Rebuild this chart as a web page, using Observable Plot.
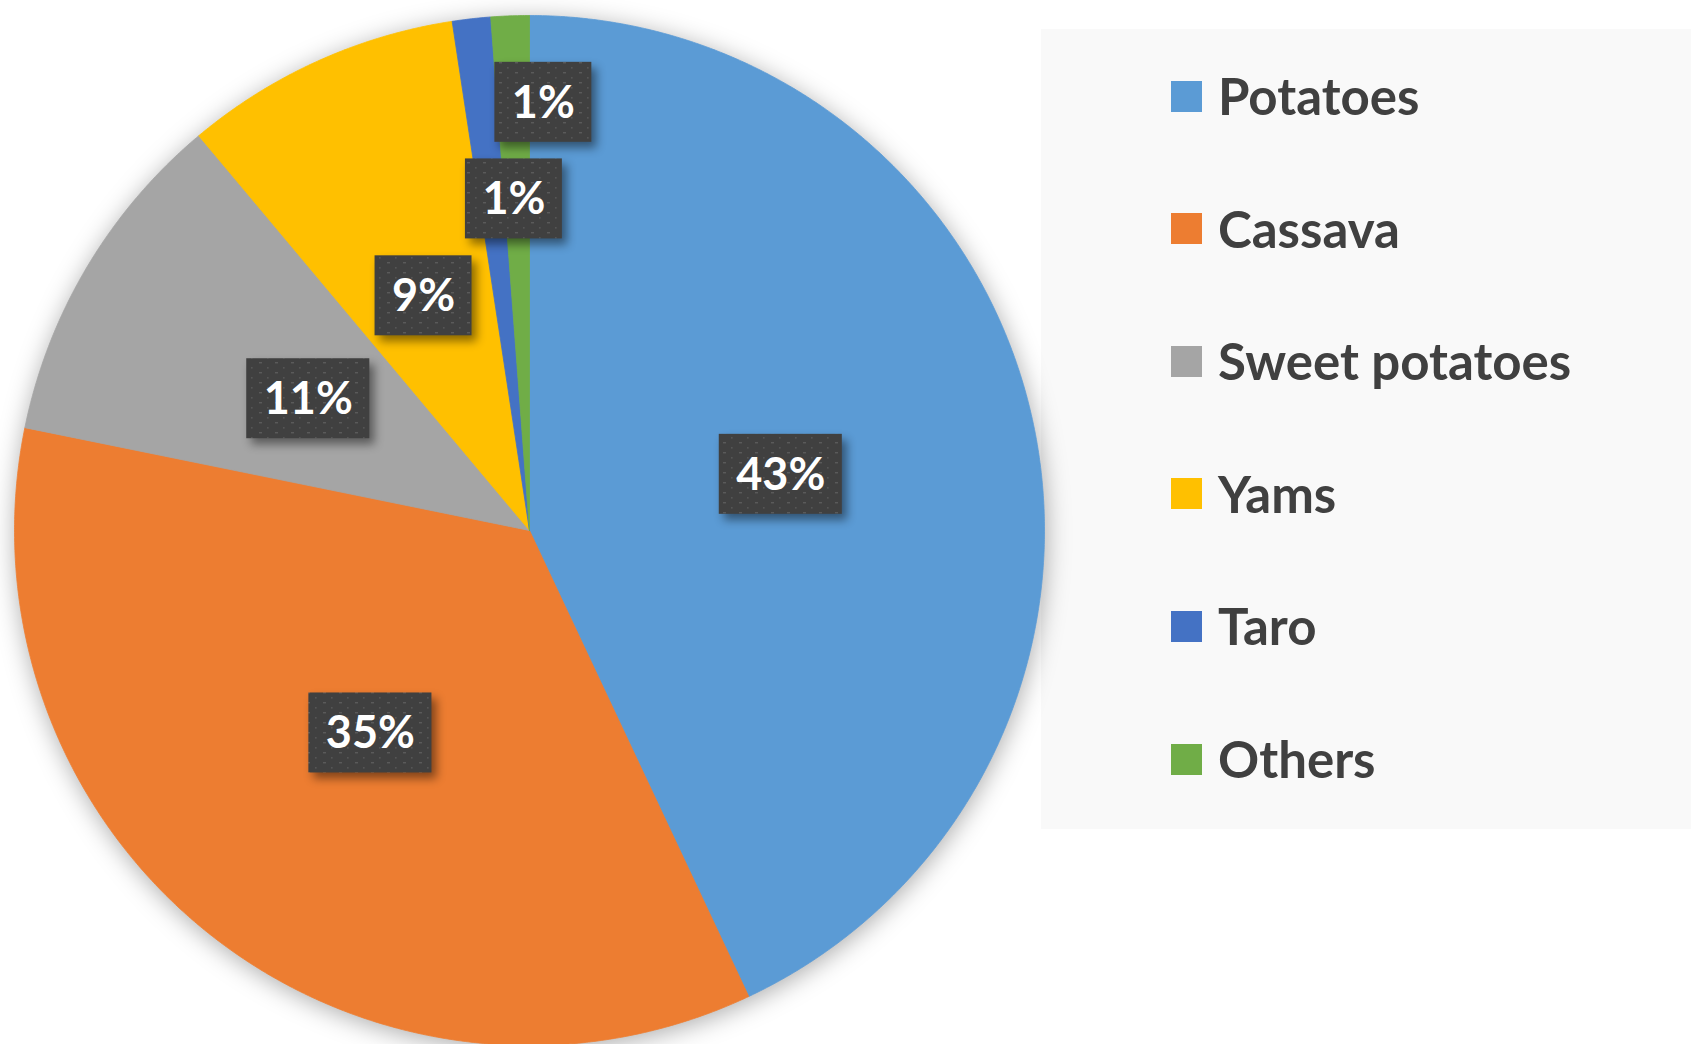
<!DOCTYPE html>
<html>
<head>
<meta charset="utf-8">
<script src="https://cdn.jsdelivr.net/npm/d3@7"></script>
<script src="https://cdn.jsdelivr.net/npm/@observablehq/plot@0.6"></script>
<style>
  html, body { margin: 0; padding: 0; background: #ffffff; }
  #wrap { position: relative; width: 1691px; height: 1044px; overflow: hidden; font-family: Lato, "Open Sans", sans-serif; }
  #legend { position: absolute; left: 1041px; top: 29px; width: 650px; height: 800px; background: #F9F9F9; }
  .item { position: absolute; left: 130px; height: 40px; display: flex; align-items: center; }
  .sw { width: 31px; height: 31px; box-sizing: border-box; margin-right: 16px; }
  .lab { font-size: 51px; font-weight: 700; color: #404040; line-height: 40px; white-space: nowrap; }
  #chart { position: absolute; left: 0; top: 0; }
</style>
</head>
<body>
<div id="wrap">
  <div id="legend"></div>
  <div id="chart"></div>
</div>
<script>
// ---- data ----
const categories = ["Potatoes", "Cassava", "Sweet potatoes", "Yams", "Taro", "Others"];
const shares = [43.0, 35.2, 10.7, 8.7, 1.2, 1.2];
const colors = ["#5B9BD5", "#ED7D31", "#A5A5A5", "#FFC000", "#4472C4", "#70AD47"];

// ---- build table ----
const data = categories.map((name, i) => ({name, value: shares[i]}));
const total = d3.sum(shares);
const arcs = d3.pie().sort(null).value(d => d.value)(data);

// slice polygons in unit-radius data space (y up, clockwise from 12 o'clock)
const pts = [];
arcs.forEach(a => {
  const name = a.data.name;
  pts.push({name, x: 0, y: 0});
  const n = Math.max(2, Math.ceil((a.endAngle - a.startAngle) / 0.005));
  for (let k = 0; k <= n; k++) {
    const t = a.startAngle + (a.endAngle - a.startAngle) * k / n;
    pts.push({name, x: Math.sin(t), y: Math.cos(t)});
  }
  pts.push({name, x: 0, y: 0});
});

// ---- data labels with simple collision avoidance (nudge sideways, then outward) ----
const R = 515; // pixels per unit
const ctx = document.createElement("canvas").getContext("2d");
ctx.font = "bold 45px Lato";
const placed = [];
const labelData = arcs.map(a => {
  const label = Math.round(a.data.value / total * 100) + "%";
  const w = ctx.measureText(label).width + 34;
  const h = 80;
  const hw = w / 2 / R, hh = h / 2 / R, pad = 15 / R, gap = 2 / R, maxShift = 30 / R;
  const mid = (a.startAngle + a.endAngle) / 2;
  let r = 0.5, shift = 0, x, y;
  const hits = () => placed.filter(b =>
    Math.abs(x - b.x) < hw + b.hw + pad && Math.abs(y - b.y) < hh + b.hh + pad);
  x = Math.sin(mid) * r; y = Math.cos(mid) * r;
  const firstHits = placed.filter(b =>
    Math.abs(x - b.x) < hw + b.hw && Math.abs(y - b.y) < hh + b.hh);
  firstHits.forEach(b => {
    const need = (b.x + b.hw + gap) - (x - hw);
    shift = Math.max(shift, Math.min(need, maxShift));
  });
  for (;;) {
    x = Math.sin(mid) * r + shift; y = Math.cos(mid) * r;
    if (!hits().length || r > 0.95) break;
    r += 0.004;
  }
  const d = {label, x, y, hw, hh, x1: x - hw, x2: x + hw, y1: y - hh, y2: y + hh};
  placed.push(d);
  return d;
});

const plot = Plot.plot({
  width: 1691,
  height: 1044,
  margin: 0,
  style: {background: "transparent", fontFamily: "Lato, 'Open Sans', sans-serif"},
  x: {domain: [-1, 1], range: [14, 1044], axis: null},
  y: {domain: [-1, 1], range: [1045, 15], axis: null},
  color: {domain: categories, range: colors},
  marks: [
    Plot.line(pts, {x: "x", y: "y", z: "name", fill: "name", stroke: "name", strokeWidth: 0.8, curve: "linear"}),
    Plot.rect(labelData, {x1: "x1", x2: "x2", y1: "y1", y2: "y2", fill: "url(#dotpat)"}),
    Plot.text(labelData, {x: "x", y: "y", text: "label", fill: "white", fontSize: 45, fontWeight: "bold", dy: 1})
  ]
});

// pattern + shadows
const ns = "http://www.w3.org/2000/svg";
const defs = document.createElementNS(ns, "defs");
defs.innerHTML = `<pattern id="dotpat" patternUnits="userSpaceOnUse" width="16" height="10">
  <rect width="16" height="10" fill="#404040"></rect>
  <rect x="3" y="2" width="3" height="1.4" fill="#5a5a5a"></rect>
  <rect x="11" y="7" width="1.6" height="1.6" fill="#555555"></rect>
</pattern>`;
plot.insertBefore(defs, plot.firstChild);
const gLine = plot.querySelector('g[aria-label="line"]');
if (gLine) gLine.style.filter = "drop-shadow(1px 4px 12px rgba(0,0,0,0.32))";
const gRect = plot.querySelector('g[aria-label="rect"]');
if (gRect) gRect.style.filter = "drop-shadow(5px 6px 5px rgba(0,0,0,0.45))";

document.getElementById("chart").appendChild(plot);

// ---- legend ----
const legend = document.getElementById("legend");
const rowTop = 67, rowStep = 132.6; // row centers relative to legend panel
categories.forEach((name, i) => {
  const item = document.createElement("div");
  item.className = "item";
  item.style.top = (rowTop + rowStep * i - 20) + "px";
  const sw = document.createElement("div");
  sw.className = "sw";
  sw.style.background = colors[i];
  const lab = document.createElement("div");
  lab.className = "lab";
  lab.textContent = name;
  item.appendChild(sw);
  item.appendChild(lab);
  legend.appendChild(item);
});
</script>
</body>
</html>
